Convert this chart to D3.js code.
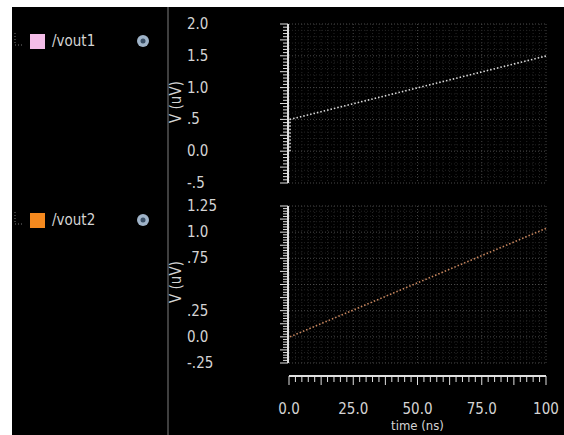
<!DOCTYPE html>
<html>
<head>
<meta charset="utf-8">
<script src="https://cdn.jsdelivr.net/npm/d3@7"></script>
<style>
  body { margin: 0; background: #fff; }
  text { font-family: "DejaVu Sans Condensed", "Liberation Sans Narrow", sans-serif; font-stretch: condensed; fill: #d4d4d4; }
</style>
</head>
<body>
<div id="chart"></div>
<script>
// signal names and colours
var signals = ["/vout1", "/vout2"];
var signalColors = ["#f4bde8", "#f5891e"];

// waveform samples (time in ns, value in uV)
var time1 = [0, 0, 100];
var vout1 = [0, 0.5, 1.5];
var time2 = [0, 100];
var vout2 = [0, 1.04];

// tick labels
var topTicks = [2.0, 1.5, 1.0, 0.5, 0.0, -0.5];
var topLabels = ["2.0", "1.5", "1.0", ".5", "0.0", "-.5"];
var botTicks = [1.25, 1.0, 0.75, 0.25, 0.0, -0.25];
var botLabels = ["1.25", "1.0", ".75", ".25", "0.0", "-.25"];
var timeTicks = [0, 25, 50, 75, 100];
var timeLabels = ["0.0", "25.0", "50.0", "75.0", "100"];

var W = 564, H = 435;

var svg = d3.select("#chart").append("svg")
    .attr("width", W)
    .attr("height", H);

// black viewer area
svg.append("rect")
    .attr("x", 12).attr("y", 7)
    .attr("width", W - 12).attr("height", H - 7)
    .attr("fill", "#000");

// divider between names and plots
svg.append("line")
    .attr("x1", 168).attr("x2", 168)
    .attr("y1", 7).attr("y2", H)
    .attr("stroke", "#555").attr("stroke-width", 1.5);

var x = d3.scaleLinear().domain([0, 100]).range([289, 546]);

var panels = [
    { y: d3.scaleLinear().domain([-0.5, 2.0]).range([183, 24]), ticks: topTicks, labels: topLabels,
      step: 0.05, major: 0.25, t: time1, v: vout1, color: "#dadada", rowY: 41 },
    { y: d3.scaleLinear().domain([-0.25, 1.25]).range([363, 206]), ticks: botTicks, labels: botLabels,
      step: 0.025, major: 0.125, t: time2, v: vout2, color: "#c7865e", rowY: 220 }
];

panels.forEach(function (p, i) {
    var g = svg.append("g");
    var y0 = p.y.range()[0], y1 = p.y.range()[1];

    // faint grid
    d3.range(0, 100.01, 2.5).forEach(function (t) {
        g.append("line")
            .attr("x1", x(t)).attr("x2", x(t))
            .attr("y1", y1).attr("y2", y0)
            .attr("stroke", t % 25 == 0 ? "#444" : "#262626")
            .attr("stroke-dasharray", "1,2");
    });
    var dom = p.y.domain();
    d3.range(dom[0], dom[1] + 1e-6, p.step * 2).forEach(function (v) {
        var major = Math.abs(v / p.major - Math.round(v / p.major)) < 1e-6;
        g.append("line")
            .attr("x1", x(0)).attr("x2", x(100))
            .attr("y1", p.y(v)).attr("y2", p.y(v))
            .attr("stroke", major ? "#484848" : "#222")
            .attr("stroke-dasharray", "1,2");
    });

    // vertical ruler
    g.append("line")
        .attr("x1", 288).attr("x2", 288)
        .attr("y1", y1).attr("y2", y0)
        .attr("stroke", "#e0e0e0").attr("stroke-width", 2);
    d3.range(dom[0], dom[1] + 1e-6, p.step).forEach(function (v) {
        var major = Math.abs(v / p.major - Math.round(v / p.major)) < 1e-6;
        g.append("line")
            .attr("x1", major ? 280 : 283).attr("x2", 288)
            .attr("y1", p.y(v)).attr("y2", p.y(v))
            .attr("stroke", "#e0e0e0").attr("stroke-width", 1);
    });

    // tick labels
    g.selectAll("text.tick")
        .data(p.ticks)
        .enter()
        .append("text")
        .attr("class", "tick")
        .attr("x", 187)
        .attr("y", function (d) { return p.y(d) + 5; })
        .attr("font-size", 15)
        .text(function (d, k) { return p.labels[k]; });

    // axis title
    var mid = i == 0 ? 102 : 282;
    g.append("text")
        .attr("transform", "translate(181," + mid + ") rotate(-90)")
        .attr("text-anchor", "middle")
        .attr("font-size", 15)
        .text("V (uV)");

    // waveform
    var pts = p.t.map(function (t, k) { return [t, p.v[k]]; });
    g.append("path")
        .attr("d", d3.line().x(function (d) { return x(d[0]) + 1; }).y(function (d) { return p.y(d[1]); })(pts))
        .attr("fill", "none")
        .attr("stroke", p.color)
        .attr("stroke-width", 1.6)
        .attr("stroke-dasharray", "1.5,2");

    // signal name row
    var ry = p.rowY;
    g.append("line")
        .attr("x1", 15).attr("x2", 15).attr("y1", ry - 8).attr("y2", ry + 4)
        .attr("stroke", "#777").attr("stroke-dasharray", "1,2");
    g.append("line")
        .attr("x1", 15).attr("x2", 24).attr("y1", ry + 4).attr("y2", ry + 4)
        .attr("stroke", "#777").attr("stroke-dasharray", "1,2");
    g.append("rect")
        .attr("x", 30).attr("y", ry - 7)
        .attr("width", 15).attr("height", 15)
        .attr("fill", signalColors[i]);
    g.append("text")
        .attr("x", 52).attr("y", ry + 5)
        .attr("font-size", 15)
        .text(signals[i]);
    g.append("circle")
        .attr("cx", 143).attr("cy", ry)
        .attr("r", 6).attr("fill", "#9fb3c8");
    g.append("circle")
        .attr("cx", 143).attr("cy", ry)
        .attr("r", 2.5).attr("fill", "#3a4f66");
});

// time ruler
svg.append("line")
    .attr("x1", x(0)).attr("x2", x(100))
    .attr("y1", 376).attr("y2", 376)
    .attr("stroke", "#e0e0e0").attr("stroke-width", 2);
d3.range(0, 100.01, 2.5).forEach(function (t) {
    svg.append("line")
        .attr("x1", x(t)).attr("x2", x(t))
        .attr("y1", 376).attr("y2", t % 12.5 == 0 ? 385 : 382)
        .attr("stroke", "#e0e0e0").attr("stroke-width", 1);
});

svg.selectAll("text.xt")
    .data(timeTicks)
    .enter()
    .append("text")
    .attr("class", "xt")
    .attr("x", function (d) { return x(d); })
    .attr("y", 414)
    .attr("text-anchor", "middle")
    .attr("font-size", 15)
    .text(function (d, k) { return timeLabels[k]; });

svg.append("text")
    .attr("x", x(50))
    .attr("y", 430)
    .attr("text-anchor", "middle")
    .attr("font-size", 13)
    .text("time (ns)");
</script>
</body>
</html>
